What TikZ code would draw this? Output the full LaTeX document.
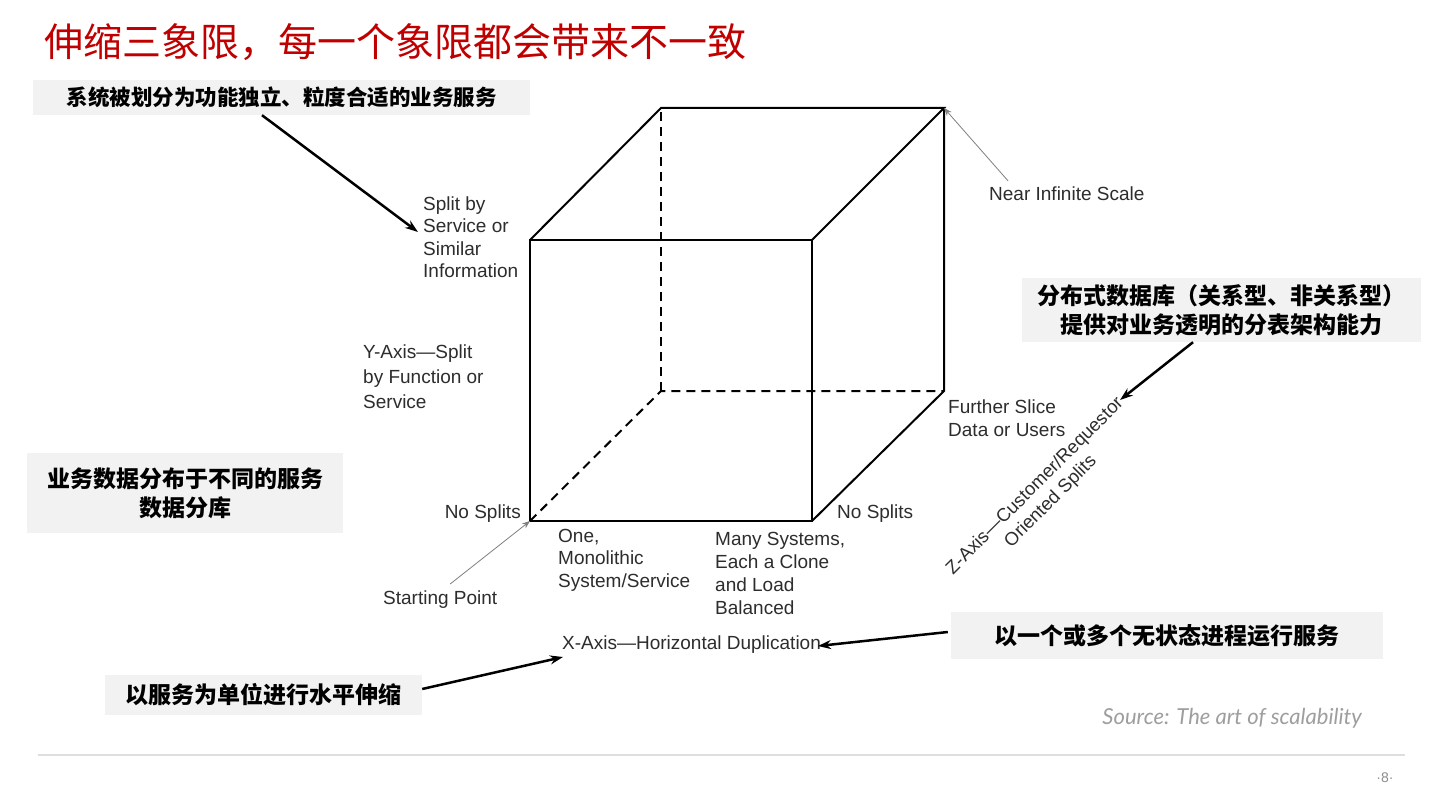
\documentclass[tikz,border=0pt]{standalone}
\usepackage{fontspec}
\setmainfont{Liberation Sans}
\newfontfamily\cjk{Noto Sans CJK SC}
\newfontfamily\srcfont{Lato}
\usetikzlibrary{arrows.meta}
\definecolor{titlered}{RGB}{192,0,0}
\definecolor{boxgray}{RGB}{242,242,242}
\definecolor{labelgray}{RGB}{45,45,45}
\definecolor{rulegray}{RGB}{222,222,222}

\begin{document}
\begin{tikzpicture}[x=1pt,y=-1pt,
	lbl/.style={anchor=west,align=left,text=labelgray,inner sep=0pt,font=\fontsize{19}{22.5}\selectfont},
	note/.style={fill=boxgray,align=center,inner sep=0pt,font=\cjk\bfseries\fontsize{23}{29}\selectfont},
	edge/.style={line width=2pt,line cap=round},
	hidden/.style={line width=2pt,dash pattern=on 9pt off 6pt},
	callout/.style={line width=2.5pt,-{Stealth[length=13pt,width=9pt]}},
	pointer/.style={line width=0.8pt,draw=gray,-{Stealth[length=8pt,width=6pt]}}]
						\useasboundingbox[fill=white] (0,0) rectangle (1440,810);
						
						% cube corners
						\coordinate (0) at (530,521);
						\coordinate (1) at (812,521);
						\coordinate (2) at (812,240);
						\coordinate (3) at (530,240);
						\coordinate (4) at (661,391);
						\coordinate (5) at (944,391);
						\coordinate (6) at (944,108);
						\coordinate (7) at (661,108);
						
						\draw[edge] (0)--(1)--(2)--(3)--cycle;
						\draw[edge] (3)--(7)--(6)--(2);
						\draw[edge] (6)--(5)--(1);
						\draw[hidden] (0)--(4)--(5);
						\draw[hidden] (4)--(7);
						
						% title
						\node[anchor=west,inner sep=0pt,text=titlered,font=\cjk\fontsize{39}{42}\selectfont] (title) at (44,42) {伸缩三象限，每一个象限都会带来不一致};
						
						% labels
						\node[lbl] (split) at (423,237) {Split by\\Service or\\Similar\\Information};
						\node[lbl,font=\fontsize{19}{25}\selectfont] (yaxis) at (363,377) {Y-Axis—Split\\by Function or\\Service};
						\node[lbl] (near) at (989,194) {Near Infinite Scale};
						\node[lbl] (further) at (948,418) {Further Slice\\Data or Users};
						\node[lbl,anchor=east] (nsleft) at (521,514) {No Splits};
						\node[lbl] (nsright) at (837,514) {No Splits};
						\node[lbl] (one) at (558,560) {One,\\Monolithic\\System/Service};
						\node[lbl,font=\fontsize{19}{23}\selectfont] (many) at (715,573) {Many Systems,\\Each a Clone\\and Load\\Balanced};
						\node[lbl] (start) at (383,600) {Starting Point};
						\node[lbl] (xaxis) at (562,645) {X-Axis—Horizontal Duplication};
						\node[align=center,text=labelgray,inner sep=0pt,rotate=45,font=\fontsize{18.5}{22}\selectfont] (zaxis) at (1043,494) {Z-Axis—Customer/Requestor\\Oriented Splits};
						
						% notes
						\node[note,minimum width=497pt,minimum height=35pt,font=\cjk\bfseries\fontsize{21.5}{26}\selectfont] (sysbox) at (281.5,97.5) {系统被划分为功能独立、粒度合适的业务服务};
						\node[note,minimum width=399pt,minimum height=64pt] (dbbox) at (1221.5,310) {分布式数据库（关系型、非关系型）\\提供对业务透明的分表架构能力};
						\node[note,minimum width=316pt,minimum height=80pt] (databox) at (185,493) {业务数据分布于不同的服务\\数据分库};
						\node[note,minimum width=317pt,minimum height=40pt] (hbox) at (263.5,695) {以服务为单位进行水平伸缩};
						\node[note,minimum width=432pt,minimum height=47pt] (procbox) at (1167,635.5) {以一个或多个无状态进程运行服务};
						
						% arrow ends
						\coordinate (splittip) at (418,232);
						\coordinate (ztip) at (1120,400);
						\coordinate (xtip) at (563,657);
						\coordinate (duptip) at (818,646);
						
						\draw[callout] ([xshift=-19.5pt]sysbox.south) -- (splittip);
						\draw[callout] ([xshift=-28.5pt]dbbox.south) -- (ztip);
						\draw[callout] ([yshift=6pt]hbox.east) -- (xtip);
						\draw[callout] ([xshift=-3pt,yshift=3.5pt]procbox.west) -- (duptip);
						\draw[pointer] ([xshift=19pt,yshift=6pt]near.north west) -- (6);
						\draw[pointer] ([xshift=10pt,yshift=7pt]start.north) -- (0);
						
						% footer
						\node[anchor=east,inner sep=0pt,text=black!38,font=\srcfont\itshape\fontsize{22}{26}\selectfont] (source) at (1362,718) {Source: The art of scalability};
						\draw[rulegray,line width=1.5pt] (38,755) -- (1405,755);
						\node[inner sep=0pt,text=black!45,font=\fontsize{14}{16}\selectfont] (page) at (1385,778) {·8·};
					\end{tikzpicture}
\end{document}
